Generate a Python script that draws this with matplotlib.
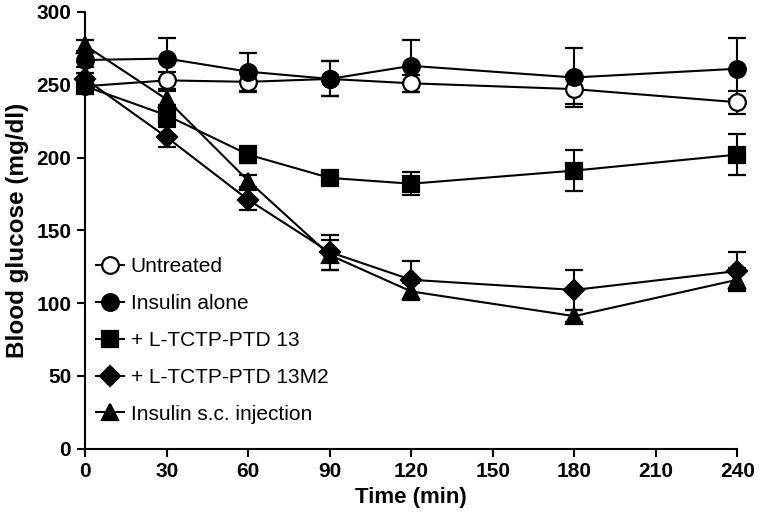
import matplotlib
matplotlib.use("Agg")
import matplotlib.pyplot as plt
from matplotlib.lines import Line2D

plt.rcParams['font.family'] = ['Liberation Sans', 'DejaVu Sans']

time = [0, 30, 60, 90, 120, 180, 240]

untreated = [249, 253, 252, 254, 251, 247, 238]
untreated_err = [4, 6, 7, 12, 6, 10, 8]

insulin_alone = [267, 268, 259, 254, 263, 255, 261]
insulin_alone_err = [5, 14, 13, 12, 18, 20, 21]

tctp13 = [249, 229, 202, 186, 182, 191, 202]
tctp13_err = [4, 7, 6, 4, 8, 14, 14]

tctp13m2 = [254, 214, 171, 135, 116, 109, 122]
tctp13m2_err = [4, 7, 7, 12, 13, 14, 13]

sc_injection = [277, 240, 184, 133, 108, 91, 116]
sc_injection_err = [4, 6, 4, 10, 6, 4, 8]

labels = ["Untreated", "Insulin alone", "+ L-TCTP-PTD 13",
          "+ L-TCTP-PTD 13M2", "Insulin s.c. injection"]
xticks = [0, 30, 60, 90, 120, 150, 180, 210, 240]
yticks = [0, 50, 100, 150, 200, 250, 300]

fig = plt.figure(figsize=(7.6, 5.21), dpi=100)
ax = fig.add_axes([0.112, 0.139, 0.858, 0.838])

series = [
    (untreated, untreated_err, 'o', 'white', 12),
    (insulin_alone, insulin_alone_err, 'o', 'black', 12),
    (tctp13, tctp13_err, 's', 'black', 11),
    (tctp13m2, tctp13m2_err, 'D', 'black', 10),
    (sc_injection, sc_injection_err, '^', 'black', 12),
]

handles = []
for (vals, errs, mk, fc, ms), lab in zip(series, labels):
    ax.errorbar(time, vals, yerr=errs, color='black', marker=mk,
                markerfacecolor=fc, markeredgecolor='black',
                markeredgewidth=1.6, markersize=ms, linewidth=1.5,
                elinewidth=1.5, capsize=6.5, capthick=1.5,
                clip_on=False, zorder=3)
    handles.append(Line2D([], [], color='black', marker=mk, markerfacecolor=fc,
                          markeredgecolor='black', markeredgewidth=1.6,
                          markersize=ms, linewidth=1.5))

ax.set_xlim(0, 240)
ax.set_ylim(0, 300)
ax.set_xticks(xticks)
ax.set_yticks(yticks)
for s in ['top', 'right']:
    ax.spines[s].set_visible(False)
for s in ['left', 'bottom']:
    ax.spines[s].set_linewidth(1.5)
ax.tick_params(direction='out', length=6, width=1.5, labelsize=15, pad=4)
for t in ax.get_xticklabels() + ax.get_yticklabels():
    t.set_fontweight('bold')

ax.set_xlabel("Time (min)", fontsize=16, fontweight='bold', labelpad=4)
ax.set_ylabel("Blood glucose (mg/dl)", fontsize=17.5, fontweight='bold', labelpad=5)

leg = ax.legend(handles=handles, labels=labels, loc='upper left',
                bbox_to_anchor=(-0.005, 0.472), frameon=False, fontsize=15,
                handlelength=1.3, handletextpad=0.35, labelspacing=0.86,
                borderaxespad=0.3)

fig.savefig("out.png", dpi=100)
